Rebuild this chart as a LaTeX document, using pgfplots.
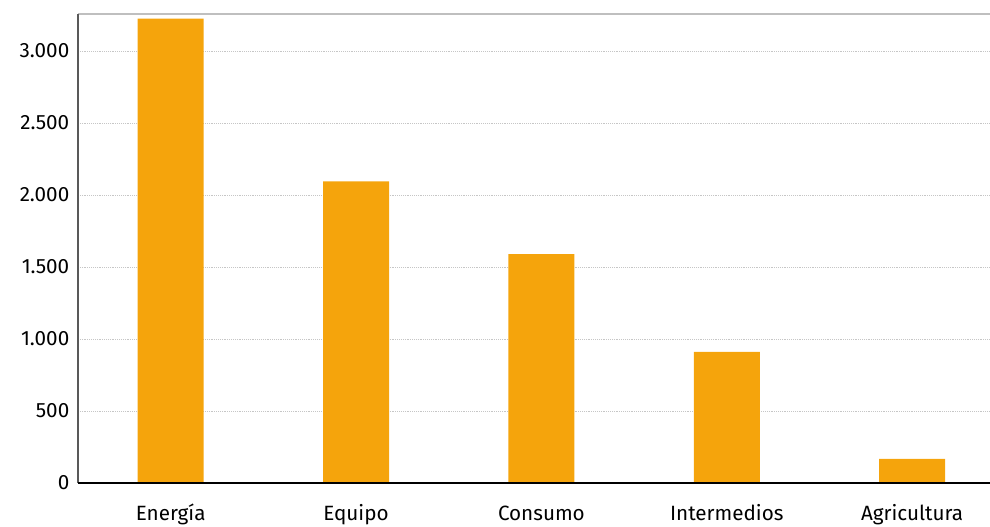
\documentclass[border=0pt]{standalone}
\usepackage{pgfplots}
\pgfplotsset{compat=1.18}
\usepackage{fontspec}
\setmainfont{Fira Sans}
\definecolor{barc}{HTML}{F5A40C}
\begin{document}
\begin{tikzpicture}
\begin{axis}[
  at={(58.5pt,32.25pt)}, anchor=south west,
  scale only axis, width=684pt, height=351.75pt,
  ymin=0, ymax=3257, xmin=-0.5, xmax=4.42,
  xtick={0,1,2,3,4},
  xticklabels={Energía,Equipo,Consumo,Intermedios,Agricultura},
  ytick={0,500,1000,1500,2000,2500,3000},
  yticklabels={0,500,1.000,1.500,2.000,2.500,3.000},
  major tick length=0pt,
  tick label style={font=\fontsize{15.5}{17}\selectfont, text=black},
  xticklabel style={yshift=-28pt, anchor=base, text depth=0pt},
  yticklabel style={xshift=-3pt},
  ymajorgrids, grid style={densely dotted, gray!45, line width=0.5pt},
  axis line style={draw=none},
  clip=false,
]
\addplot[ybar, bar width=0.356, fill=barc, draw=none] coordinates {
 (0,3225) (1,2095) (2,1590) (3,910) (4,168)};
\draw[line width=1.5pt, gray!50] (rel axis cs:0,1) -- (rel axis cs:1,1);
\draw[line width=1pt, black!65] (rel axis cs:0,0) -- (rel axis cs:0,1);
\draw[line width=1.6pt, black] (rel axis cs:0,0) -- (rel axis cs:1,0);
\end{axis}
\pgfresetboundingbox
\path (0pt,0pt) rectangle (742.5pt,394.5pt);
\end{tikzpicture}
\end{document}
